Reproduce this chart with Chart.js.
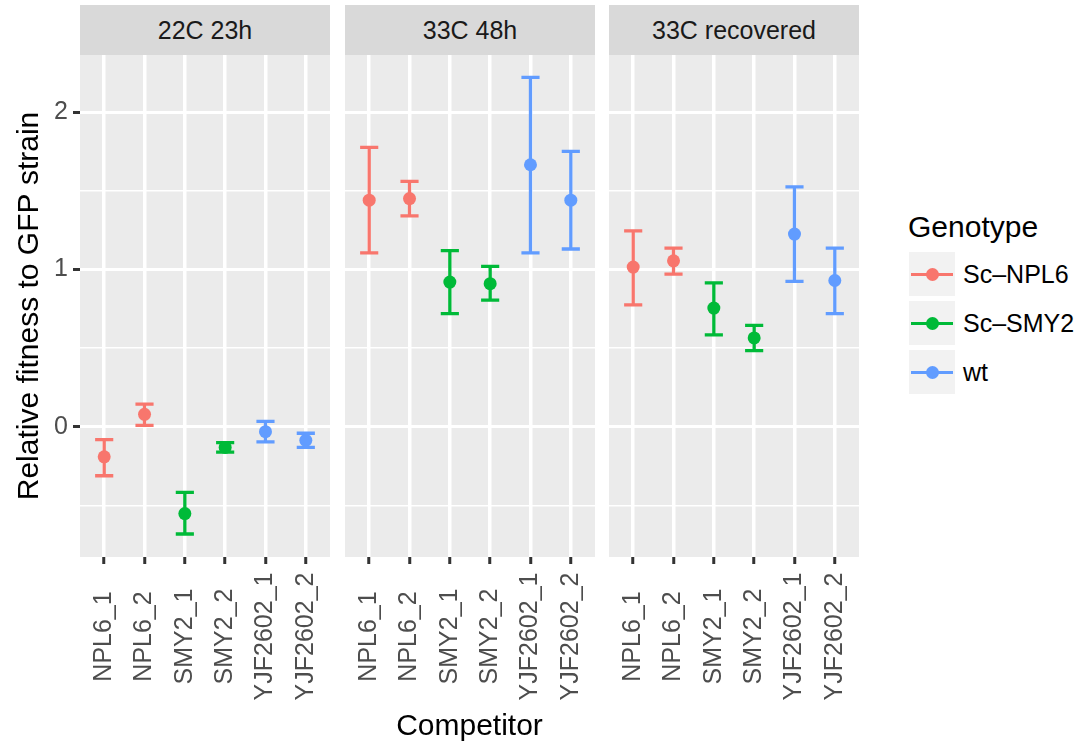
<!DOCTYPE html>
<html>
<head>
<meta charset="utf-8">
<script src="https://cdn.jsdelivr.net/npm/chart.js@4.4.1/dist/chart.umd.min.js"></script>
<style>
  html, body { margin: 0; padding: 0; background: #fff; }
  body {
    width: 1082px; height: 744px; position: relative; overflow: hidden;
    font-family: "Liberation Sans", Arial, sans-serif;
  }
  .strip {
    position: absolute; top: 5px; height: 50px; line-height: 50px;
    background: #d9d9d9; color: #1a1a1a; font-size: 25px; text-align: center;
  }
  .panel { position: absolute; top: 55px; }
  .x-title {
    position: absolute; left: 80px; width: 779px; top: 708px;
    text-align: center; font-size: 30px; color: #000;
  }
  .legend { position: absolute; left: 908px; top: 209px; }
  .legend-title { font-size: 30px; line-height: 36px; color: #000; margin-bottom: 7px; }
  .legend-row { display: flex; align-items: center; height: 44px; margin-bottom: 5px; }
  .legend-key { position: relative; width: 46px; height: 44px; background: #f2f2f2; margin-left: 1px; }
  .legend-key .line { position: absolute; left: 2px; right: 2px; top: 20.5px; height: 3px; }
  .legend-key .dot { position: absolute; left: 16.5px; top: 15.5px; width: 13px; height: 13px; border-radius: 50%; }
  .legend-label { margin-left: 8px; font-size: 25px; color: #000; }
</style>
</head>
<body>
<div id="strips"></div>
<canvas id="panel0" class="panel" width="330" height="660" style="left:0px"></canvas>
<canvas id="panel1" class="panel" width="250" height="660" style="left:345px"></canvas>
<canvas id="panel2" class="panel" width="250" height="660" style="left:609px"></canvas>
<div class="x-title">Competitor</div>
<div class="legend" id="legend"><div class="legend-title">Genotype</div></div>

<script>
// Data
const facets = ['22C 23h', '33C 48h', '33C recovered'];
const competitors = ['NPL6_1', 'NPL6_2', 'SMY2_1', 'SMY2_2', 'YJF2602_1', 'YJF2602_2'];
const genotypes = ['Sc\u2013NPL6', 'Sc\u2013SMY2', 'wt'];
const competitorGenotype = [0, 0, 1, 1, 2, 2];

const fitness22 = [-0.19, 0.08, -0.55, -0.13, -0.03, -0.085];
const lower22 = [-0.31, 0.01, -0.68, -0.16, -0.095, -0.13];
const upper22 = [-0.08, 0.145, -0.415, -0.10, 0.035, -0.04];

const fitness48 = [1.44, 1.45, 0.92, 0.91, 1.665, 1.44];
const lower48 = [1.105, 1.34, 0.72, 0.805, 1.105, 1.13];
const upper48 = [1.775, 1.56, 1.12, 1.02, 2.22, 1.75];

const fitnessRec = [1.015, 1.055, 0.755, 0.565, 1.225, 0.93];
const lowerRec = [0.775, 0.97, 0.585, 0.485, 0.925, 0.72];
const upperRec = [1.245, 1.135, 0.915, 0.645, 1.525, 1.135];

const yGrid = [-0.5, 0, 0.5, 1, 1.5, 2];
const yLimits = [-0.826, 2.362];

const fitness = [fitness22, fitness48, fitnessRec];
const lower = [lower22, lower48, lowerRec];
const upper = [upper22, upper48, upperRec];

// Styling
const colors = ['#F8766D', '#00BA38', '#619CFF'];
const FONT = '"Liberation Sans", Arial, sans-serif';
const panelLefts = [80, 345, 609];
const panelWidth = 250;
const capWidth = 0.45;
const xLabelCenter = 79.5; // ggplot centres rotated labels in the axis band

Chart.defaults.font.family = FONT;

const panelBackground = {
    id: 'panelBackground',
    beforeDraw(chart) {
        const { ctx, chartArea: a } = chart;
        ctx.save();
        ctx.fillStyle = '#EBEBEB';
        ctx.fillRect(a.left, a.top, a.width, a.height);
        ctx.restore();
    },
};

// ggplot-style error bars, drawn under the points
const errorBars = {
    id: 'errorBars',
    beforeDatasetsDraw(chart) {
        const { ctx, scales: { x, y } } = chart;
        ctx.save();
        ctx.lineWidth = 3.3;
        chart.data.datasets.forEach((ds) => {
            ctx.strokeStyle = ds.borderColor;
            ds.data.forEach((d) => {
                const px = x.getPixelForValue(d.x);
                const half = x.getPixelForValue(d.x + capWidth / 2) - px;
                const top = y.getPixelForValue(d.hi);
                const bot = y.getPixelForValue(d.lo);
                ctx.beginPath();
                ctx.moveTo(px, top);
                ctx.lineTo(px, bot);
                ctx.moveTo(px - half, top);
                ctx.lineTo(px + half, top);
                ctx.moveTo(px - half, bot);
                ctx.lineTo(px + half, bot);
                ctx.stroke();
            });
        });
        ctx.restore();
    },
};

// Chart.js always right-aligns 90° labels; ggplot centres them, so draw them here.
const centredXLabels = {
    id: 'centredXLabels',
    afterDraw(chart) {
        const { ctx, scales: { x } } = chart;
        ctx.save();
        ctx.fillStyle = '#4D4D4D';
        ctx.font = `25px ${FONT}`;
        ctx.textAlign = 'center';
        ctx.textBaseline = 'middle';
        x.ticks.forEach((t, i) => {
            ctx.save();
            ctx.translate(x.getPixelForTick(i), x.top + xLabelCenter);
            ctx.rotate(-Math.PI / 2);
            ctx.fillText(t.label ?? competitors[t.value], 0, 0);
            ctx.restore();
        });
        ctx.restore();
    },
};

const isMajor = (c) => !!c.tick && Number.isInteger(c.tick.value);

function makePanel(f) {
    const first = 0 === f;
    const datasets = genotypes.map((g, gi) => ({
        label: g,
        data: competitors
            .map((c, ci) => ({ x: ci, y: fitness[f][ci], lo: lower[f][ci], hi: upper[f][ci] }))
            .filter((d) => competitorGenotype[d.x] === gi),
        backgroundColor: colors[gi],
        borderColor: colors[gi],
        borderWidth: 0,
        pointRadius: 6.5,
        pointHoverRadius: 6.5,
    }));

    return new Chart(document.getElementById('panel' + f), {
        type: 'scatter',
        data: { datasets },
        options: {
            responsive: false,
            animation: false,
            events: [],
            layout: { padding: 0, autoPadding: false },
            plugins: { legend: { display: false }, tooltip: { enabled: false } },
            scales: {
                x: {
                    type: 'linear',
                    min: -0.6,
                    max: competitors.length - 0.4,
                    afterBuildTicks: (s) => { s.ticks = competitors.map((_, i) => ({ value: i })); },
                    afterFit: (s) => { s.height = 158; s.paddingLeft = 0; s.paddingRight = 0; },
                    ticks: {
                        display: false,
                        autoSkip: false,
                        callback: (v) => competitors[v],
                    },
                    grid: { color: '#fff', lineWidth: 3.5, tickColor: '#333', tickLength: 7, tickWidth: 3 },
                    border: { display: false },
                },
                y: {
                    type: 'linear',
                    min: yLimits[0],
                    max: yLimits[1],
                    afterBuildTicks: (s) => { s.ticks = yGrid.map((v) => ({ value: v })); },
                    afterFit: (s) => { s.width = first ? 80 : 0; s.paddingTop = 0; s.paddingBottom = 0; },
                    ticks: {
                        display: first,
                        padding: 5,
                        color: '#4D4D4D',
                        font: { size: 25 },
                        callback: (v) => (Number.isInteger(v) ? String(v) : ''),
                    },
                    grid: {
                        color: '#fff',
                        lineWidth: (c) => (isMajor(c) ? 3 : 1.5),
                        drawTicks: first,
                        tickLength: 7,
                        tickWidth: 3,
                        tickColor: (c) => (isMajor(c) ? '#333' : 'rgba(0,0,0,0)'),
                    },
                    border: { display: false },
                    title: {
                        display: first,
                        text: 'Relative fitness to GFP strain',
                        color: '#000',
                        font: { size: 30 },
                        padding: { top: 12 },
                    },
                },
            },
        },
        plugins: [panelBackground, errorBars, centredXLabels],
    });
}

const strips = document.getElementById('strips');
facets.forEach((name, f) => {
    const div = document.createElement('div');
    div.className = 'strip';
    div.style.left = panelLefts[f] + 'px';
    div.style.width = panelWidth + 'px';
    div.textContent = name;
    strips.appendChild(div);
    makePanel(f);
});

const legend = document.getElementById('legend');
genotypes.forEach((g, gi) => {
    const row = document.createElement('div');
    row.className = 'legend-row';
    row.innerHTML = `<div class="legend-key"><div class="line" style="background:${colors[gi]}"></div>`
        + `<div class="dot" style="background:${colors[gi]}"></div></div>`
        + `<span class="legend-label"></span>`;
    row.querySelector('.legend-label').textContent = g;
    legend.appendChild(row);
});
</script>
</body>
</html>
